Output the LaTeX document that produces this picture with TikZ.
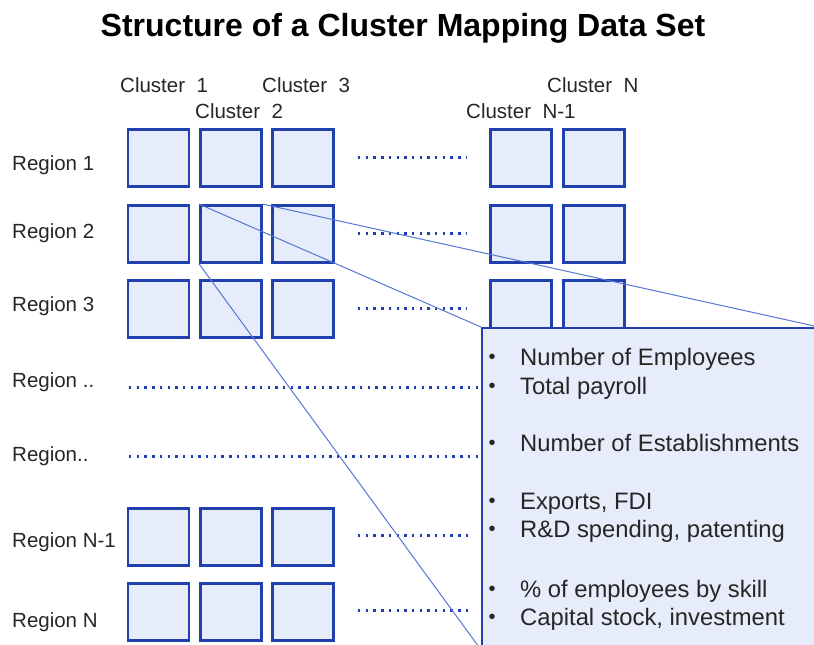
\documentclass[tikz,border=0pt]{standalone}
\usepackage{fontspec}
\setmainfont{Liberation Sans}
\definecolor{cellfill}{HTML}{E6ECF9}
\definecolor{celldraw}{HTML}{2140B0}
\definecolor{linkblue}{HTML}{5577D6}
\definecolor{txt}{HTML}{262626}
\tikzset{
  cell/.style={draw=celldraw,fill=cellfill,line width=2.8pt,minimum width=61pt,minimum height=57pt,inner sep=0pt},
  dotrow/.style={draw=celldraw,line width=3pt,dash pattern=on 2.4pt off 5.3pt},
  link/.style={draw=linkblue,line width=1pt},
  lab/.style={anchor=base west,inner sep=0pt,text=txt,font=\fontsize{20.5}{24}\selectfont},
  clab/.style={anchor=base west,inner sep=0pt,text=txt,font=\fontsize{20.5}{24}\selectfont},
  itm/.style={anchor=base west,inner sep=0pt,text=txt,font=\fontsize{23.8}{28}\selectfont},
  bul/.style={anchor=base,inner sep=0pt,text=txt,font=\fontsize{20}{26}\selectfont},
  infobox/.style={draw=celldraw,fill=cellfill,line width=1.8pt,minimum width=336pt,minimum height=321pt,inner sep=0pt,anchor=north west}
}
\begin{document}
\begin{tikzpicture}[x=1pt,y=-1pt]
\useasboundingbox (0,0) rectangle (814,645);
\clip (0,0) rectangle (814,645);
% title
\node[anchor=base,inner sep=0pt,font=\bfseries\fontsize{32}{36}\selectfont] (title) at (403,36) {Structure of a Cluster Mapping Data Set};
% cluster labels
\node[clab] (cl1) at (120,92) {Cluster\ \ 1};
\node[clab] (cl3) at (262,92) {Cluster\ \ 3};
\node[clab] (cl2) at (195,118) {Cluster\ \ 2};
\node[clab] (clN) at (547,92) {Cluster\ \ N};
\node[clab] (clN1) at (466,118) {Cluster\ \ N-1};
% region labels
\node[lab] (rl1) at (12,170) {Region 1};
\node[lab] (rl2) at (12,238) {Region 2};
\node[lab] (rl3) at (12,311) {Region 3};
\node[lab] (rl4) at (12,387) {Region ..};
\node[lab] (rl5) at (12,461) {Region..};
\node[lab] (rlN1) at (12,547) {Region N-1};
\node[lab] (rlN) at (12,627) {Region N};
% cells
\foreach \r/\y in {1/158,2/234,3/309,N1/537,N/612}{
  \foreach \c/\x in {1/158.5,2/231,3/303}{
    \node[cell] (r\r c\c) at (\x,\y) {};
  }
}
\foreach \r/\y in {1/158,2/234,3/309}{
  \foreach \c/\x in {N1/521,N/594}{
    \node[cell] (r\r c\c) at (\x,\y) {};
  }
}
% dotted rows
\coordinate (d1a) at (358,157); \coordinate (d1b) at (466,157);
\coordinate (d2a) at (358,233); \coordinate (d2b) at (466,233);
\coordinate (d3a) at (358,308); \coordinate (d3b) at (466,308);
\coordinate (d4a) at (129,387); \coordinate (d4b) at (482,387);
\coordinate (d5a) at (129,456); \coordinate (d5b) at (482,456);
\coordinate (d6a) at (358,535); \coordinate (d6b) at (470,535);
\coordinate (d7a) at (358,610); \coordinate (d7b) at (470,610);
\foreach \i in {1,...,7}{ \draw[dotrow] (d\i a) -- (d\i b); }
% info box
\node[infobox] (info) at (481,327) {};
% links
\draw[link] (r2c2.north west) -- (info.north west);
\draw[link] (r2c2.north east) -- (info.north east);
\draw[link] (r2c2.south west) -- (info.south west);
% info items
\foreach \n/\y/\t in {a/365/Number of Employees,b/394/Total payroll,c/451/Number of Establishments,d/509/{Exports, FDI},e/537/{R\&D spending, patenting},f/597/\% of employees by skill,g/625/{Capital stock, investment}}{
  \node[bul] (b\n) at (492,\y-2) {\textbullet};
  \node[itm] (i\n) at (520,\y) {\t};
}
\end{tikzpicture}
\end{document}
